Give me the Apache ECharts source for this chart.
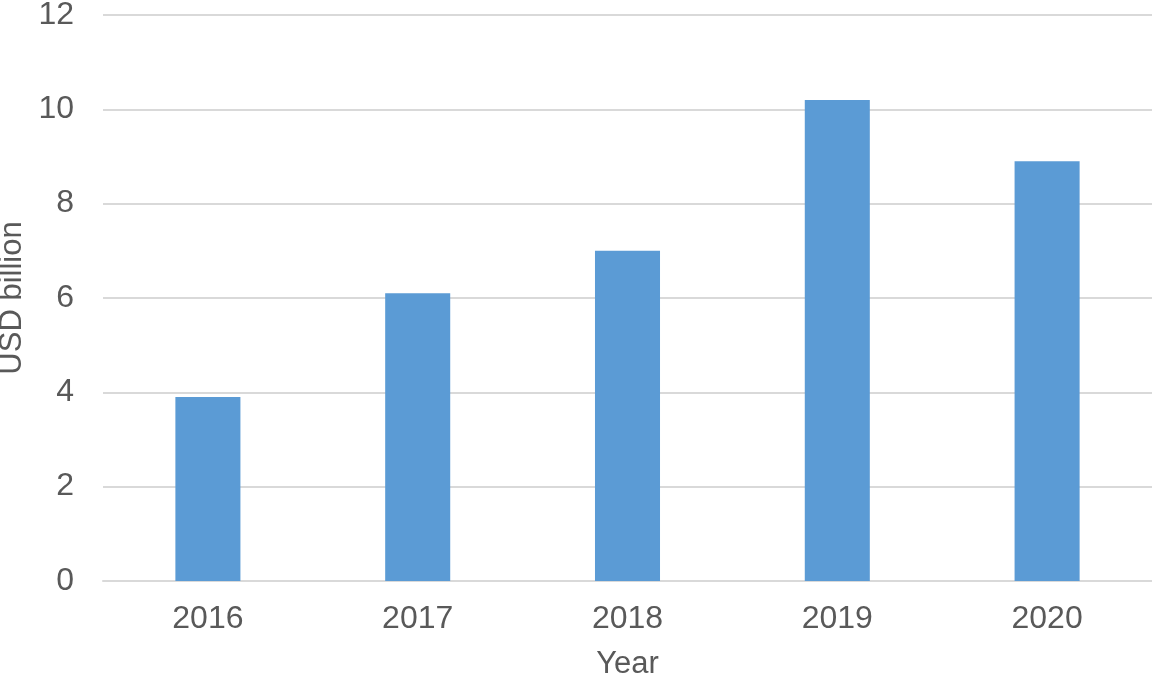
<!DOCTYPE html>
<html>
<head>
<meta charset="utf-8">
<script src="https://cdn.jsdelivr.net/npm/echarts@6/dist/echarts.min.js"></script>
<style>html,body{margin:0;padding:0;background:#fff}#c{width:1152px;height:677px}</style>
</head>
<body>
<div id="c"></div>
<script>
const categories = ['2016', '2017', '2018', '2019', '2020'];
const values = [3.9, 6.1, 7.0, 10.2, 8.9];
const yTicks = { min: 0, max: 12, interval: 2 };
const xName = 'Year';
const yName = 'USD billion';

const chart = echarts.init(document.getElementById('c'), null, { renderer: 'canvas' });
const txt = '#595959';
const font = 'Liberation Sans, Arial, sans-serif';
chart.setOption({
  animation: false,
  backgroundColor: '#ffffff',
  grid: { left: 103, right: 0, top: 15, bottom: 96, containLabel: false, outerBoundsMode: 'none' },
  xAxis: {
    type: 'category',
    data: categories,
    name: xName,
    nameLocation: 'middle',
    nameGap: 68,
    nameTextStyle: { color: txt, fontSize: 31, fontFamily: font },
    axisLine: { show: true, lineStyle: { color: '#d9d9d9', width: 2 } },
    axisTick: { show: false },
    axisLabel: { color: txt, fontSize: 32, fontFamily: font, margin: 22 }
  },
  yAxis: {
    type: 'value',
    min: yTicks.min, max: yTicks.max, interval: yTicks.interval,
    name: yName,
    nameLocation: 'middle',
    nameGap: 75,
    nameTextStyle: { color: txt, fontSize: 31, fontFamily: font },
    axisLine: { show: false },
    axisTick: { show: false },
    axisLabel: { color: txt, fontSize: 32, fontFamily: font, margin: 29 },
    splitLine: { lineStyle: { color: '#d9d9d9', width: 2 } }
  },
  series: [{
    type: 'bar',
    data: values,
    barWidth: '31%',
    itemStyle: { color: '#5b9bd5' }
  }]
});
</script>
</body>
</html>
